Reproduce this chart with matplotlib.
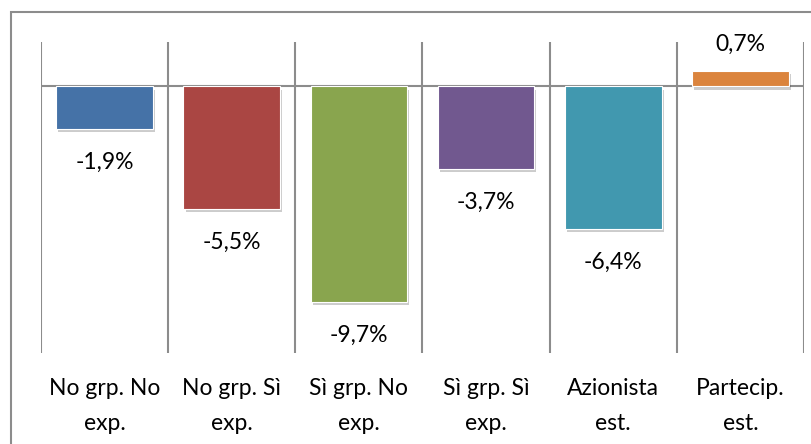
import matplotlib
matplotlib.use("Agg")
import matplotlib.pyplot as plt
import matplotlib.patheffects as pe
from matplotlib.patches import Rectangle

categories = ["No grp. No\nexp.", "No grp. Sì\nexp.", "Sì grp. No\nexp.",
              "Sì grp. Sì\nexp.", "Azionista\nest.", "Partecip.\nest."]
values = [-1.9, -5.5, -9.7, -3.7, -6.4, 0.7]
colors = ["#4572A7", "#AA4643", "#89A54E", "#71588F", "#4198AF", "#DB843D"]

plt.rcParams['font.family'] = ['Lato', 'DejaVu Sans']

fig = plt.figure(figsize=(8.11, 4.44), dpi=100)
W, H = 811, 444
ax = fig.add_axes([41 / W, 1 - 353 / H, (804 - 41) / W, (353 - 42) / H])

# outer chart frame (runs off the right/bottom edge like the original)
fig.patches.append(Rectangle((11 / W, -0.1), 1.0, 1 - 12.5 / H + 0.1,
                             transform=fig.transFigure, fill=False,
                             edgecolor="#8c8c8c", linewidth=1.5, clip_on=False))

x = list(range(len(values)))
bars = ax.bar(x, values, width=0.76, color=colors, edgecolor="white",
              linewidth=0.8, zorder=3)
for b in bars:
    b.set_path_effects([pe.SimplePatchShadow(offset=(1.5, -2.5), alpha=0.2, shadow_rgbFace="black"),
                        pe.Normal()])

for xi, v in zip(x, values):
    lbl = f"{v:.1f}%".replace(".", ",")
    off = -24 if v < 0 else 19
    ax.annotate(lbl, (xi, v), xytext=(0, off), textcoords="offset points",
                ha="center", va="center", fontsize=16.5)

ax.set_xlim(-0.5, len(values) - 0.5)
ax.set_ylim(-12, 2)
for xv in [i - 0.5 for i in range(len(values) + 1)]:
    ax.axvline(xv, color="#8c8c8c", linewidth=1.5, zorder=1)
ax.axhline(0, color="#8c8c8c", linewidth=1.5, zorder=2)

ax.set_yticks([])
ax.set_xticks(x)
ax.set_xticklabels(categories, fontsize=16.5, linespacing=1.8)
ax.tick_params(axis="x", length=0, pad=18)
for s in ax.spines.values():
    s.set_visible(False)

fig.savefig("out.png", dpi=100)
